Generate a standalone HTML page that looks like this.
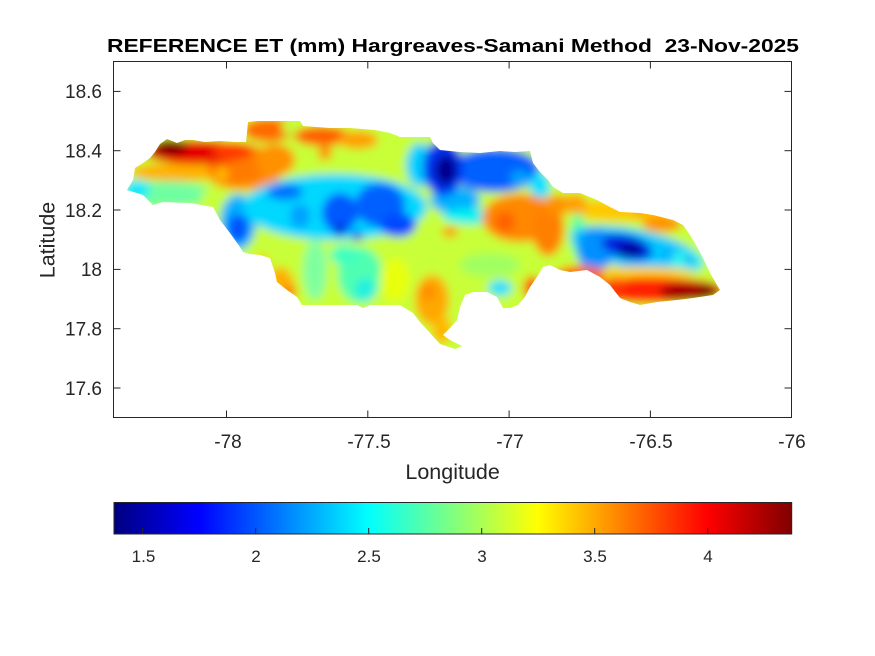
<!DOCTYPE html>
<html><head><meta charset="utf-8"><style>
html,body{margin:0;padding:0;background:#fff;}
svg{display:block;}
text{font-family:"Liberation Sans",Arial,sans-serif;fill:#262626;}
</style></head><body>
<svg width="875" height="656" viewBox="0 0 875 656" xmlns="http://www.w3.org/2000/svg">
<defs>
<clipPath id="isl">
<polygon points="127,190 133,180 135,168 143,163 150,158 155,152 160,144 167,139 177,143 185,140 193,140 205,142 220,141 235,142 246,142 248,122 257,121 300,121 303,126 330,128 350,128 375,130 390,133 400,137 430,137 433,143 440,150 460,152 480,153 500,151 515,152 530,151 533,163 540,172 548,180 553,187 563,193 580,193 597,200 610,207 620,212 640,213 653,215 673,220 683,225 690,235 697,247 703,258 710,273 717,285 720,290 713,295 693,298 677,300 657,302 640,305 630,302 620,298 610,285 600,277 587,270 570,272 560,270 550,265 543,267 537,277 530,287 525,297 518,305 510,308 503,308 497,297 487,292 473,292 465,295 460,307 457,320 450,328 443,335 450,340 462,346 455,349 440,344 430,333 420,322 413,313 400,305 370,305 363,308 357,305 302,305 297,297 287,290 277,282 275,273 270,258 260,255 250,254 243,252 240,247 230,233 220,220 213,207 190,203 163,202 153,205 143,195"/>
</clipPath>
<filter id="bl" x="-10%" y="-10%" width="120%" height="120%"><feGaussianBlur stdDeviation="4.5"/></filter>
<linearGradient id="jet" x1="0" y1="0" x2="1" y2="0">
<stop offset="0" stop-color="#000080"/>
<stop offset="0.125" stop-color="#0000ff"/>
<stop offset="0.375" stop-color="#00ffff"/>
<stop offset="0.625" stop-color="#ffff00"/>
<stop offset="0.875" stop-color="#ff0000"/>
<stop offset="1" stop-color="#800000"/>
</linearGradient>
</defs>

<g clip-path="url(#isl)">
<g filter="url(#bl)">
<rect x="100" y="100" width="650" height="270" fill="#c8ff38"/>
<!-- west -->
<ellipse cx="165" cy="194" rx="48" ry="13" fill="#70ffa0"/>
<ellipse cx="137" cy="189" rx="13" ry="9" fill="#00e8ff"/>
<ellipse cx="178" cy="172" rx="48" ry="9" fill="#ffb000"/>
<ellipse cx="245" cy="178" rx="35" ry="12" fill="#ff9000"/>
<ellipse cx="238" cy="163" rx="32" ry="20" fill="#ff7a00"/>
<circle cx="222" cy="174" r="6" fill="#ffc000"/>
<ellipse cx="196" cy="152" rx="52" ry="12" fill="#e80000"/>
<ellipse cx="232" cy="151" rx="20" ry="9" fill="#ff3800"/>
<ellipse cx="170" cy="147" rx="18" ry="8" fill="#800000"/>
<ellipse cx="275" cy="160" rx="20" ry="16" fill="#ff9000"/>
<ellipse cx="215" cy="197" rx="14" ry="8" fill="#c8ff38"/>
<ellipse cx="238" cy="222" rx="18" ry="28" fill="#00b0ff"/>
<ellipse cx="238" cy="228" rx="10" ry="14" fill="#0050ff"/>
<ellipse cx="268" cy="130" rx="25" ry="12" fill="#ff6a00"/>
<circle cx="288" cy="128" r="6" fill="#c0ff40"/>
<ellipse cx="322" cy="136" rx="28" ry="10" fill="#ff6000"/>
<ellipse cx="358" cy="140" rx="20" ry="9" fill="#ffa000"/>
<circle cx="325" cy="153" r="7" fill="#ff9000"/>
<!-- central band -->
<ellipse cx="335" cy="207" rx="92" ry="33" fill="#00d8ff"/>
<ellipse cx="285" cy="192" rx="18" ry="8" fill="#0070ff"/>
<ellipse cx="300" cy="216" rx="10" ry="12" fill="#00a0ff"/>
<ellipse cx="340" cy="213" rx="18" ry="20" fill="#0058ff"/>
<ellipse cx="380" cy="205" rx="25" ry="22" fill="#0060ff"/>
<ellipse cx="398" cy="225" rx="18" ry="12" fill="#0048ff"/>
<circle cx="340" cy="230" r="6" fill="#0020d0"/>
<circle cx="357" cy="236" r="5" fill="#0030e0"/>
<ellipse cx="420" cy="165" rx="14" ry="22" fill="#00d0ff"/>
<ellipse cx="455" cy="200" rx="25" ry="14" fill="#00b0ff"/>
<ellipse cx="472" cy="216" rx="30" ry="8" fill="#00f0f0"/>
<ellipse cx="495" cy="170" rx="45" ry="22" fill="#0060ff"/>
<ellipse cx="520" cy="178" rx="10" ry="8" fill="#00a0ff"/>
<ellipse cx="540" cy="186" rx="10" ry="14" fill="#00e0ff"/>
<ellipse cx="443" cy="168" rx="20" ry="28" fill="#0030f0"/>
<ellipse cx="446" cy="170" rx="11" ry="15" fill="#000090"/>
<ellipse cx="450" cy="232" rx="8" ry="5" fill="#ff9000"/>
<!-- orange centre-east -->
<ellipse cx="520" cy="218" rx="38" ry="24" fill="#ff8800"/>
<circle cx="505" cy="222" r="10" fill="#ff6000"/>
<ellipse cx="548" cy="228" rx="16" ry="28" fill="#ff8000"/>
<ellipse cx="557" cy="205" rx="14" ry="10" fill="#ff9000"/>
<!-- south -->
<ellipse cx="280" cy="285" rx="14" ry="18" fill="#ffb000"/>
<circle cx="290" cy="292" r="7" fill="#ff8000"/>
<circle cx="262" cy="262" r="7" fill="#ffc000"/>
<ellipse cx="315" cy="270" rx="12" ry="30" fill="#80ffa0"/>
<ellipse cx="360" cy="275" rx="22" ry="28" fill="#50ffb0"/>
<ellipse cx="365" cy="290" rx="10" ry="12" fill="#20f0e0"/>
<ellipse cx="345" cy="255" rx="15" ry="10" fill="#40ffc0"/>
<ellipse cx="395" cy="280" rx="15" ry="22" fill="#e8ff10"/>
<ellipse cx="432" cy="300" rx="17" ry="25" fill="#ffa800"/>
<circle cx="428" cy="292" r="8" fill="#ff8c00"/>
<ellipse cx="442" cy="330" rx="10" ry="14" fill="#ffb800"/>
<ellipse cx="490" cy="265" rx="30" ry="12" fill="#a0ff60"/>
<ellipse cx="500" cy="288" rx="12" ry="8" fill="#20e0ff"/>
<ellipse cx="532" cy="288" rx="8" ry="12" fill="#ff5000"/>
<!-- east -->
<ellipse cx="622" cy="210" rx="52" ry="11" fill="#ffc800"/>
<ellipse cx="575" cy="204" rx="12" ry="10" fill="#ffa000"/>
<ellipse cx="662" cy="224" rx="20" ry="8" fill="#ff9000"/>
<ellipse cx="640" cy="212" rx="8" ry="5" fill="#ffa800"/>
<ellipse cx="578" cy="235" rx="8" ry="22" fill="#60ffa0"/>
<ellipse cx="637" cy="250" rx="68" ry="20" transform="rotate(12 637 250)" fill="#00c8ff"/>
<ellipse cx="595" cy="250" rx="18" ry="22" fill="#0090ff"/>
<ellipse cx="627" cy="247" rx="26" ry="12" transform="rotate(15 627 247)" fill="#0020e0"/>
<ellipse cx="630" cy="250" rx="13" ry="7" fill="#000098"/>
<ellipse cx="686" cy="260" rx="18" ry="9" fill="#30f0f0"/>
<circle cx="668" cy="255" r="4" fill="#0080ff"/>
<circle cx="690" cy="260" r="4" fill="#0080ff"/>
<ellipse cx="640" cy="272" rx="55" ry="5" fill="#ffd000"/>
<ellipse cx="652" cy="290" rx="72" ry="13" fill="#ff2000"/>
<ellipse cx="580" cy="275" rx="25" ry="9" fill="#ff6000"/>
<ellipse cx="615" cy="285" rx="10" ry="8" fill="#ff4000"/>
<ellipse cx="690" cy="292" rx="30" ry="9" fill="#a00000"/>
<circle cx="706" cy="291" r="8" fill="#800000"/>
</g>
</g>

<rect x="113.5" y="61.5" width="678" height="356" fill="none" stroke="#262626" stroke-width="1"/>
<g stroke="#262626" stroke-width="1">
<line x1="226.5" y1="417.5" x2="226.5" y2="410.5"/><line x1="226.5" y1="61.5" x2="226.5" y2="68.5"/>
<line x1="367.8" y1="417.5" x2="367.8" y2="410.5"/><line x1="367.8" y1="61.5" x2="367.8" y2="68.5"/>
<line x1="509.1" y1="417.5" x2="509.1" y2="410.5"/><line x1="509.1" y1="61.5" x2="509.1" y2="68.5"/>
<line x1="650.4" y1="417.5" x2="650.4" y2="410.5"/><line x1="650.4" y1="61.5" x2="650.4" y2="68.5"/>
<line x1="113.5" y1="91.4" x2="120.5" y2="91.4"/><line x1="791.5" y1="91.4" x2="784.5" y2="91.4"/>
<line x1="113.5" y1="150.7" x2="120.5" y2="150.7"/><line x1="791.5" y1="150.7" x2="784.5" y2="150.7"/>
<line x1="113.5" y1="210" x2="120.5" y2="210"/><line x1="791.5" y1="210" x2="784.5" y2="210"/>
<line x1="113.5" y1="269.4" x2="120.5" y2="269.4"/><line x1="791.5" y1="269.4" x2="784.5" y2="269.4"/>
<line x1="113.5" y1="328.7" x2="120.5" y2="328.7"/><line x1="791.5" y1="328.7" x2="784.5" y2="328.7"/>
<line x1="113.5" y1="388" x2="120.5" y2="388"/><line x1="791.5" y1="388" x2="784.5" y2="388"/>
</g>

<g font-size="19" text-anchor="middle">
<text x="228" y="448">-78</text>
<text x="369" y="448">-77.5</text>
<text x="510" y="448">-77</text>
<text x="651" y="448">-76.5</text>
<text x="792" y="448">-76</text>
</g>
<g font-size="19" text-anchor="end">
<text x="102" y="98.2">18.6</text>
<text x="102" y="157.5">18.4</text>
<text x="102" y="216.8">18.2</text>
<text x="102" y="276.2">18</text>
<text x="102" y="335.5">17.8</text>
<text x="102" y="394.8">17.6</text>
</g>

<text x="452.6" y="479" font-size="21.5" text-anchor="middle">Longitude</text>
<text transform="translate(54.5,240) rotate(-90)" font-size="21.5" text-anchor="middle">Latitude</text>

<text x="453" y="52" font-size="18.5" font-weight="bold" text-anchor="middle" textLength="692" lengthAdjust="spacingAndGlyphs" style="fill:#000">REFERENCE ET (mm) Hargreaves-Samani Method&#160; 23-Nov-2025</text>

<rect x="114" y="502.5" width="677.7" height="31.5" fill="url(#jet)" stroke="#262626" stroke-width="1"/>
<g stroke="#262626" stroke-width="1">
<line x1="142.7" y1="534" x2="142.7" y2="528"/>
<line x1="255.7" y1="534" x2="255.7" y2="528"/>
<line x1="368.7" y1="534" x2="368.7" y2="528"/>
<line x1="481.7" y1="534" x2="481.7" y2="528"/>
<line x1="594.7" y1="534" x2="594.7" y2="528"/>
<line x1="707.7" y1="534" x2="707.7" y2="528"/>
</g>
<g font-size="17" text-anchor="middle">
<text x="143.5" y="562">1.5</text>
<text x="256" y="562">2</text>
<text x="369" y="562">2.5</text>
<text x="482" y="562">3</text>
<text x="595" y="562">3.5</text>
<text x="708" y="562">4</text>
</g>
</svg>
</body></html>
